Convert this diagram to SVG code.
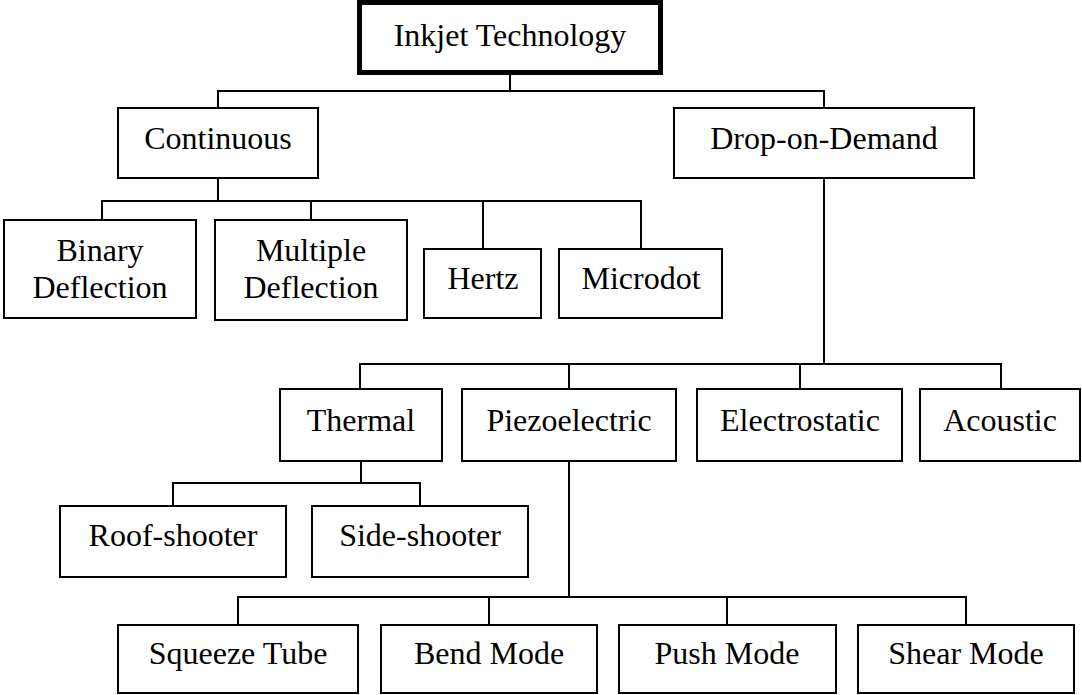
<svg xmlns="http://www.w3.org/2000/svg" width="1082" height="695" viewBox="0 0 1082 695">
<style>
.box{fill:#fff;stroke:#000;stroke-width:2}
.root{fill:#fff;stroke:#000;stroke-width:5}
.lbl{font-family:"Liberation Serif","Times New Roman",serif;font-size:32px;fill:#000;text-anchor:middle}
.con{fill:none;stroke:#000;stroke-width:2}
</style>
<rect x="0" y="0" width="1082" height="695" fill="#fff"/>
<g id="connectors" class="con">
<path d="M510 75V91M218 108V91H824V108"/>
<path d="M218 178V201M102 220V201H641V249M311 201V220M483 201V249"/>
<path d="M824 178V364M360 389V364H1001V389M569 364V389M800 364V389"/>
<path d="M361 461V483M173 506V483H420V506"/>
<path d="M569 461V597M238 625V597H966V625M489 597V625M727 597V625"/>
</g>
<g id="inkjet"><rect class="root" x="359.5" y="2.5" width="301" height="70"/><text class="lbl" x="510" y="46">Inkjet Technology</text></g>
<g id="continuous"><rect class="box" x="118" y="108" width="200" height="70"/><text class="lbl" x="218" y="149">Continuous</text></g>
<g id="dod"><rect class="box" x="674" y="108" width="300" height="70"/><text class="lbl" x="824" y="149">Drop-on-Demand</text></g>
<g id="binary"><rect class="box" x="4" y="220" width="192" height="98"/><text class="lbl" x="100" y="261">Binary</text><text class="lbl" x="100" y="298">Deflection</text></g>
<g id="multiple"><rect class="box" x="215" y="220" width="192" height="100"/><text class="lbl" x="311" y="261">Multiple</text><text class="lbl" x="311" y="298">Deflection</text></g>
<g id="hertz"><rect class="box" x="424" y="249" width="117" height="69"/><text class="lbl" x="483" y="289">Hertz</text></g>
<g id="microdot"><rect class="box" x="559" y="249" width="163" height="69"/><text class="lbl" x="641" y="289">Microdot</text></g>
<g id="thermal"><rect class="box" x="280" y="389" width="162" height="72"/><text class="lbl" x="361" y="431">Thermal</text></g>
<g id="piezo"><rect class="box" x="462" y="389" width="214" height="72"/><text class="lbl" x="569" y="431">Piezoelectric</text></g>
<g id="electrostatic"><rect class="box" x="697" y="389" width="205" height="72"/><text class="lbl" x="800" y="431">Electrostatic</text></g>
<g id="acoustic"><rect class="box" x="920" y="389" width="160" height="72"/><text class="lbl" x="1000" y="431">Acoustic</text></g>
<g id="roof"><rect class="box" x="60" y="506" width="226" height="71"/><text class="lbl" x="173" y="546">Roof-shooter</text></g>
<g id="side"><rect class="box" x="312" y="506" width="216" height="71"/><text class="lbl" x="420" y="546">Side-shooter</text></g>
<g id="squeeze"><rect class="box" x="118" y="625" width="240" height="68"/><text class="lbl" x="238" y="664">Squeeze Tube</text></g>
<g id="bend"><rect class="box" x="381" y="625" width="216" height="68"/><text class="lbl" x="489" y="664">Bend Mode</text></g>
<g id="push"><rect class="box" x="619" y="625" width="217" height="68"/><text class="lbl" x="727" y="664">Push Mode</text></g>
<g id="shear"><rect class="box" x="858" y="625" width="216" height="68"/><text class="lbl" x="966" y="664">Shear Mode</text></g>
</svg>
